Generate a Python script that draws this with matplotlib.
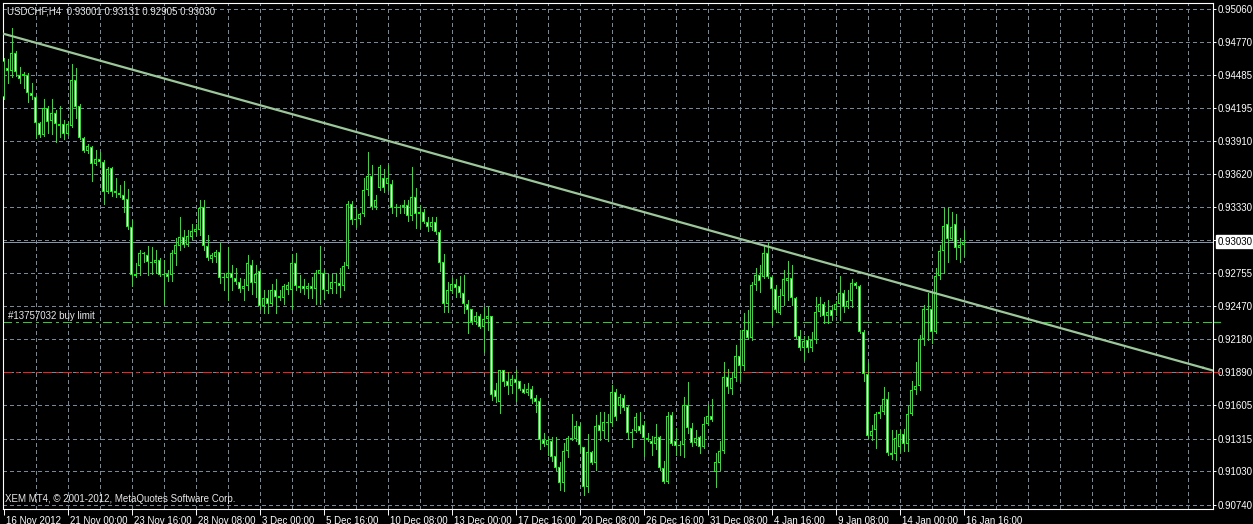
import numpy as np
import matplotlib
matplotlib.use('Agg')
import matplotlib.pyplot as plt
import matplotlib.transforms as mtransforms

plt.rcParams['font.family'] = ['Liberation Sans', 'DejaVu Sans']
plt.rcParams['lines.scale_dashes'] = False

# USDCHF H4 candles, first bar 16 Nov 2012 08:00 (prices, 4 decimals)
opens = [
    0.9429, 0.9454, 0.9452, 0.9467, 0.9448, 0.9447, 0.9448, 0.9432, 0.9429, 0.9406,
    0.9396, 0.9419, 0.9408, 0.9415, 0.9405, 0.9405, 0.9397, 0.9404, 0.9444, 0.9421,
    0.9393, 0.9382, 0.9385, 0.9371, 0.9375, 0.9372, 0.9346, 0.9367, 0.9347, 0.9345,
    0.9344, 0.9340, 0.9316, 0.9273, 0.9282, 0.9293, 0.9291, 0.9285, 0.9284, 0.9287,
    0.9274, 0.9275, 0.9274, 0.9292, 0.9299, 0.9307, 0.9300, 0.9307, 0.9311, 0.9313,
    0.9333, 0.9299, 0.9288, 0.9290, 0.9294, 0.9272, 0.9271, 0.9276, 0.9271, 0.9268,
    0.9262, 0.9264, 0.9283, 0.9267, 0.9277, 0.9247, 0.9254, 0.9249, 0.9261, 0.9254,
    0.9254, 0.9261, 0.9261, 0.9284, 0.9264, 0.9264, 0.9262, 0.9264, 0.9262, 0.9275,
    0.9276, 0.9261, 0.9262, 0.9268, 0.9267, 0.9264, 0.9282, 0.9336, 0.9322, 0.9323,
    0.9327, 0.9348, 0.9360, 0.9333, 0.9350, 0.9358, 0.9353, 0.9353, 0.9332, 0.9332,
    0.9333, 0.9335, 0.9325, 0.9342, 0.9327, 0.9329, 0.9320, 0.9316, 0.9320, 0.9311,
    0.9285, 0.9249, 0.9260, 0.9266, 0.9264, 0.9258, 0.9249, 0.9244, 0.9233, 0.9238,
    0.9229, 0.9236, 0.9238, 0.9174, 0.9163, 0.9191, 0.9182, 0.9177, 0.9183, 0.9182,
    0.9175, 0.9171, 0.9175, 0.9167, 0.9164, 0.9130, 0.9126, 0.9129, 0.9116, 0.9107,
    0.9093, 0.9121, 0.9132, 0.9131, 0.9142, 0.9124, 0.9089, 0.9120, 0.9110, 0.9143,
    0.9138, 0.9145, 0.9145, 0.9172, 0.9160, 0.9167, 0.9159, 0.9137, 0.9138, 0.9142,
    0.9143, 0.9132, 0.9129, 0.9127, 0.9133, 0.9106, 0.9094, 0.9152, 0.9129, 0.9125,
    0.9126, 0.9161, 0.9141, 0.9128, 0.9133, 0.9124, 0.9144, 0.9151, 0.9102, 0.9110,
    0.9121, 0.9185, 0.9175, 0.9184, 0.9203, 0.9195, 0.9226, 0.9219, 0.9265, 0.9274,
    0.9272, 0.9293, 0.9272, 0.9262, 0.9241, 0.9256, 0.9269, 0.9271, 0.9254, 0.9221,
    0.9210, 0.9217, 0.9210, 0.9217, 0.9242, 0.9249, 0.9238, 0.9243, 0.9243, 0.9249,
    0.9258, 0.9246, 0.9251, 0.9267, 0.9264, 0.9224, 0.9188, 0.9134, 0.9139, 0.9153,
    0.9155, 0.9166, 0.9119, 0.9118, 0.9124, 0.9135, 0.9127, 0.9153, 0.9174, 0.9177,
    0.9218, 0.9243, 0.9244, 0.9224, 0.9273, 0.9295, 0.9318, 0.9305, 0.9318, 0.9297,
    0.93001,
]
highs = [
    0.9463, 0.9462, 0.9489, 0.9469, 0.9455, 0.9451, 0.9450, 0.9441, 0.9430, 0.9407,
    0.9427, 0.9421, 0.9427, 0.9418, 0.9421, 0.9409, 0.9407, 0.9458, 0.9454, 0.9423,
    0.9394, 0.9388, 0.9386, 0.9383, 0.9381, 0.9374, 0.9368, 0.9368, 0.9358, 0.9352,
    0.9356, 0.9349, 0.9322, 0.9284, 0.9296, 0.9294, 0.9299, 0.9298, 0.9296, 0.9289,
    0.9287, 0.9278, 0.9296, 0.9306, 0.9324, 0.9313, 0.9313, 0.9318, 0.9318, 0.9339,
    0.9339, 0.9309, 0.9293, 0.9296, 0.9302, 0.9276, 0.9298, 0.9283, 0.9280, 0.9271,
    0.9270, 0.9291, 0.9287, 0.9283, 0.9278, 0.9261, 0.9261, 0.9266, 0.9270, 0.9261,
    0.9266, 0.9268, 0.9292, 0.9293, 0.9274, 0.9270, 0.9267, 0.9272, 0.9278, 0.9299,
    0.9278, 0.9275, 0.9275, 0.9276, 0.9280, 0.9285, 0.9338, 0.9338, 0.9331, 0.9328,
    0.9358, 0.9381, 0.9370, 0.9344, 0.9370, 0.9366, 0.9370, 0.9357, 0.9336, 0.9335,
    0.9339, 0.9339, 0.9368, 0.9350, 0.9335, 0.9331, 0.9324, 0.9324, 0.9324, 0.9313,
    0.9292, 0.9268, 0.9271, 0.9270, 0.9273, 0.9274, 0.9252, 0.9244, 0.9242, 0.9240,
    0.9246, 0.9246, 0.9238, 0.9180, 0.9191, 0.9191, 0.9189, 0.9187, 0.9191, 0.9182,
    0.9179, 0.9180, 0.9177, 0.9169, 0.9167, 0.9136, 0.9133, 0.9133, 0.9133, 0.9111,
    0.9128, 0.9134, 0.9153, 0.9147, 0.9145, 0.9124, 0.9135, 0.9121, 0.9152, 0.9155,
    0.9155, 0.9153, 0.9178, 0.9175, 0.9170, 0.9169, 0.9161, 0.9140, 0.9154, 0.9155,
    0.9147, 0.9136, 0.9134, 0.9144, 0.9134, 0.9112, 0.9155, 0.9155, 0.9141, 0.9129,
    0.9168, 0.9181, 0.9145, 0.9139, 0.9134, 0.9150, 0.9161, 0.9166, 0.9119, 0.9129,
    0.9198, 0.9192, 0.9189, 0.9213, 0.9226, 0.9241, 0.9243, 0.9268, 0.9280, 0.9283,
    0.9300, 0.9302, 0.9273, 0.9265, 0.9262, 0.9278, 0.9286, 0.9283, 0.9255, 0.9226,
    0.9221, 0.9221, 0.9224, 0.9255, 0.9255, 0.9250, 0.9252, 0.9248, 0.9251, 0.9273,
    0.9261, 0.9261, 0.9270, 0.9268, 0.9265, 0.9226, 0.9197, 0.9143, 0.9155, 0.9160,
    0.9176, 0.9172, 0.9139, 0.9139, 0.9139, 0.9140, 0.9160, 0.9182, 0.9198, 0.9222,
    0.9248, 0.9258, 0.9259, 0.9280, 0.9300, 0.9332, 0.9332, 0.9329, 0.9327, 0.9306,
    0.93131,
]
lows = [
    0.9427, 0.9441, 0.9446, 0.9447, 0.9441, 0.9437, 0.9425, 0.9427, 0.9393, 0.9394,
    0.9395, 0.9398, 0.9397, 0.9390, 0.9394, 0.9392, 0.9396, 0.9403, 0.9411, 0.9392,
    0.9381, 0.9380, 0.9356, 0.9370, 0.9368, 0.9336, 0.9345, 0.9343, 0.9342, 0.9342,
    0.9329, 0.9314, 0.9264, 0.9272, 0.9274, 0.9285, 0.9274, 0.9275, 0.9276, 0.9273,
    0.9249, 0.9269, 0.9269, 0.9283, 0.9296, 0.9298, 0.9299, 0.9305, 0.9309, 0.9309,
    0.9296, 0.9287, 0.9285, 0.9285, 0.9267, 0.9261, 0.9252, 0.9261, 0.9266, 0.9259,
    0.9252, 0.9261, 0.9257, 0.9255, 0.9244, 0.9241, 0.9241, 0.9248, 0.9241, 0.9252,
    0.9249, 0.9257, 0.9244, 0.9261, 0.9259, 0.9257, 0.9254, 0.9254, 0.9249, 0.9249,
    0.9253, 0.9258, 0.9258, 0.9258, 0.9255, 0.9261, 0.9280, 0.9318, 0.9316, 0.9318,
    0.9325, 0.9344, 0.9331, 0.9331, 0.9348, 0.9346, 0.9348, 0.9328, 0.9325, 0.9328,
    0.9328, 0.9321, 0.9322, 0.9315, 0.9315, 0.9319, 0.9312, 0.9313, 0.9310, 0.9277,
    0.9242, 0.9242, 0.9258, 0.9255, 0.9255, 0.9241, 0.9223, 0.9231, 0.9231, 0.9228,
    0.9207, 0.9226, 0.9165, 0.9163, 0.9154, 0.9177, 0.9170, 0.9171, 0.9164, 0.9174,
    0.9171, 0.9169, 0.9162, 0.9155, 0.9122, 0.9125, 0.9117, 0.9112, 0.9104, 0.9087,
    0.9086, 0.9115, 0.9130, 0.9129, 0.9120, 0.9082, 0.9085, 0.9109, 0.9104, 0.9130,
    0.9132, 0.9129, 0.9142, 0.9148, 0.9154, 0.9156, 0.9131, 0.9124, 0.9137, 0.9136,
    0.9116, 0.9129, 0.9117, 0.9122, 0.9104, 0.9093, 0.9093, 0.9126, 0.9117, 0.9117,
    0.9115, 0.9136, 0.9125, 0.9126, 0.9119, 0.9123, 0.9143, 0.9147, 0.9089, 0.9104,
    0.9119, 0.9171, 0.9170, 0.9182, 0.9182, 0.9191, 0.9218, 0.9217, 0.9261, 0.9259,
    0.9271, 0.9271, 0.9230, 0.9242, 0.9240, 0.9248, 0.9252, 0.9248, 0.9219, 0.9209,
    0.9200, 0.9207, 0.9208, 0.9215, 0.9238, 0.9232, 0.9232, 0.9235, 0.9239, 0.9235,
    0.9242, 0.9245, 0.9246, 0.9263, 0.9223, 0.9182, 0.9132, 0.9130, 0.9123, 0.9149,
    0.9153, 0.9117, 0.9114, 0.9113, 0.9120, 0.9121, 0.9121, 0.9152, 0.9170, 0.9174,
    0.9213, 0.9217, 0.9215, 0.9223, 0.9270, 0.9276, 0.9285, 0.9304, 0.9288, 0.9285,
    0.92905,
]
closes = [
    0.9460, 0.9452, 0.9467, 0.9451, 0.9445, 0.9449, 0.9432, 0.9430, 0.9406, 0.9396,
    0.9419, 0.9407, 0.9415, 0.9405, 0.9404, 0.9397, 0.9405, 0.9444, 0.9420, 0.9393,
    0.9382, 0.9386, 0.9371, 0.9375, 0.9372, 0.9346, 0.9366, 0.9346, 0.9345, 0.9344,
    0.9339, 0.9316, 0.9274, 0.9275, 0.9293, 0.9292, 0.9285, 0.9284, 0.9287, 0.9274,
    0.9275, 0.9272, 0.9293, 0.9300, 0.9307, 0.9300, 0.9308, 0.9312, 0.9314, 0.9332,
    0.9299, 0.9289, 0.9291, 0.9294, 0.9271, 0.9271, 0.9276, 0.9271, 0.9268, 0.9262,
    0.9264, 0.9284, 0.9267, 0.9275, 0.9247, 0.9254, 0.9249, 0.9261, 0.9255, 0.9256,
    0.9264, 0.9265, 0.9284, 0.9264, 0.9263, 0.9262, 0.9264, 0.9262, 0.9276, 0.9278,
    0.9261, 0.9260, 0.9268, 0.9267, 0.9264, 0.9282, 0.9336, 0.9322, 0.9323, 0.9327,
    0.9348, 0.9360, 0.9333, 0.9339, 0.9368, 0.9350, 0.9358, 0.9332, 0.9333, 0.9333,
    0.9335, 0.9325, 0.9342, 0.9327, 0.9329, 0.9320, 0.9316, 0.9320, 0.9311, 0.9284,
    0.9249, 0.9261, 0.9266, 0.9263, 0.9258, 0.9249, 0.9243, 0.9233, 0.9238, 0.9229,
    0.9236, 0.9238, 0.9169, 0.9168, 0.9191, 0.9181, 0.9177, 0.9183, 0.9180, 0.9175,
    0.9171, 0.9175, 0.9166, 0.9163, 0.9130, 0.9127, 0.9130, 0.9115, 0.9106, 0.9093,
    0.9121, 0.9132, 0.9131, 0.9142, 0.9126, 0.9089, 0.9120, 0.9110, 0.9142, 0.9138,
    0.9146, 0.9146, 0.9172, 0.9150, 0.9168, 0.9158, 0.9136, 0.9136, 0.9150, 0.9138,
    0.9132, 0.9130, 0.9127, 0.9133, 0.9106, 0.9094, 0.9151, 0.9127, 0.9125, 0.9126,
    0.9161, 0.9141, 0.9128, 0.9132, 0.9124, 0.9144, 0.9151, 0.9148, 0.9111, 0.9121,
    0.9185, 0.9176, 0.9184, 0.9203, 0.9195, 0.9226, 0.9219, 0.9265, 0.9274, 0.9269,
    0.9293, 0.9272, 0.9262, 0.9243, 0.9256, 0.9270, 0.9271, 0.9254, 0.9220, 0.9210,
    0.9216, 0.9210, 0.9217, 0.9242, 0.9249, 0.9238, 0.9242, 0.9238, 0.9249, 0.9258,
    0.9246, 0.9251, 0.9267, 0.9264, 0.9224, 0.9188, 0.9134, 0.9138, 0.9153, 0.9155,
    0.9166, 0.9119, 0.9117, 0.9132, 0.9135, 0.9127, 0.9153, 0.9174, 0.9177, 0.9218,
    0.9244, 0.9244, 0.9224, 0.9273, 0.9295, 0.9317, 0.9305, 0.9316, 0.9297, 0.9300,
    0.93030,
]

time_labels = ['16 Nov 2012', '21 Nov 00:00', '23 Nov 16:00', '28 Nov 08:00',
               '3 Dec 00:00', '5 Dec 16:00', '10 Dec 08:00', '13 Dec 00:00',
               '17 Dec 16:00', '20 Dec 08:00', '26 Dec 16:00', '31 Dec 08:00',
               '4 Jan 16:00', '9 Jan 08:00', '14 Jan 00:00', '16 Jan 16:00']
bars_per_label = 16
price_labels = ['0.95060', '0.94770', '0.94485', '0.94195', '0.93910', '0.93620',
                '0.93330', '0.93045', '0.92755', '0.92470', '0.92180', '0.91890',
                '0.91605', '0.91315', '0.91030', '0.90740']
bid = 0.93030
buy_limit = 0.9233
stop_level = 0.9189
trend_bars = [0, 300]
trend_prices = [0.9484, 0.9193]

o = np.array(opens)
h = np.array(highs)
l = np.array(lows)
c = np.array(closes)
x = np.arange(len(o))

W, H = 1253, 524
fig = plt.figure(figsize=(W / 100, H / 100), dpi=100, facecolor='black')
ax = fig.add_axes([3 / W, 15 / H, 1210 / W, 506 / H], facecolor='black')
ymin, ymax = 0.90701, 0.95108
ax.set_xlim(-0.125, 302.375)
ax.set_ylim(ymin, ymax)
px = (ymax - ymin) / 506  # price per screen pixel

grid_col = '#778899'
grid_dash = (0, (2.2, 2.2))
for k in range(8, 303, 8):
    ax.axvline(k, color=grid_col, lw=0.72, ls=grid_dash, zorder=1, antialiased=False)
for p in price_labels:
    ax.axhline(float(p), color=grid_col, lw=0.72, ls=grid_dash, zorder=1, antialiased=False)

# order lines
ax.axhline(buy_limit, color='#2ECC2E', lw=0.72, ls=(0, (6, 3, 1.5, 3)), zorder=2,
           antialiased=False)
ax.axhline(stop_level, color='#FF1A1A', lw=0.72, ls=(0, (6, 3, 1.5, 3)), zorder=2,
           antialiased=False)
ax.text(1.2, buy_limit + 0.00012, '#13757032 buy limit', color='#E8E8E8',
        fontsize=7, va='bottom', ha='left', zorder=5)

# candles: lime wick, lime 3px body outline, 1px inner fill (black up / white down)
lime = '#00FF00'
ax.vlines(x, l, h, color=lime, lw=0.72, zorder=3, antialiased=False)
body_lo = np.minimum(o, c)
body_h = np.maximum(np.abs(c - o), px)
ax.bar(x, body_h, bottom=body_lo, width=0.75, color=lime, linewidth=0,
       zorder=4, antialiased=False)
up = c >= o
inner_h = np.clip(body_h - 2 * px, 0, None)
ax.bar(x, inner_h, bottom=body_lo + px, width=0.25,
       color=np.where(up, 'black', 'white'), linewidth=0, zorder=5, antialiased=False)

# bid line and trend line
ax.axhline(bid, color='#8595A8', lw=0.72, zorder=2, antialiased=False)
trend_col = '#9CC79A'
ax.plot(trend_bars, trend_prices, color=trend_col, lw=1.6, zorder=6)
ax.plot([trend_bars[1], 320], [trend_prices[1],
        trend_prices[1] + (trend_prices[1] - trend_prices[0]) / 300 * 20],
        color=trend_col, lw=1.6, zorder=6)

for s in ax.spines.values():
    s.set_color('white')
    s.set_linewidth(0.8)

# price axis
ax.yaxis.tick_right()
ax.set_yticks([float(p) for p in price_labels])
ax.set_yticklabels([p if p != '0.93045' else '' for p in price_labels])
ax.tick_params(axis='y', colors='white', labelsize=7, length=2, width=0.7, pad=1.5)
ax.annotate('0.93030', xy=(1, bid), xycoords=('axes fraction', 'data'),
            xytext=(3.4, 0), textcoords='offset points', va='center', ha='left',
            fontsize=7, color='black',
            bbox=dict(boxstyle='square,pad=0.18', fc='white', ec='white'))
blend = mtransforms.blended_transform_factory(ax.transAxes, ax.transData)
ax.plot([1.0, 1.006], [buy_limit, buy_limit], color='#2ECC2E', lw=0.9,
        transform=blend, clip_on=False)
ax.plot([1.0, 1.006], [stop_level, stop_level], color='#FF1A1A', lw=0.9,
        transform=blend, clip_on=False)

# time axis
ax.set_xticks(np.arange(len(time_labels)) * bars_per_label)
ax.set_xticklabels(time_labels)
ax.tick_params(axis='x', colors='white', labelsize=7, length=4, width=0.7, pad=1)
shift = mtransforms.ScaledTranslation(2.5 / 100, 0, fig.dpi_scale_trans)
for t in ax.get_xticklabels():
    t.set_horizontalalignment('left')
    t.set_transform(t.get_transform() + shift)

fig.text(7 / W, 1 - 11 / H, 'USDCHF,H4  0.93001 0.93131 0.92905 0.93030',
         color='#E8E8E8', fontsize=7, va='center', ha='left')
fig.text(5 / W, 1 - 499 / H, 'XEM MT4, \u00a9 2001-2012, MetaQuotes Software Corp.',
         color='#E8E8E8', fontsize=7, va='center', ha='left')

fig.savefig('out.png', dpi=100, facecolor='black')
